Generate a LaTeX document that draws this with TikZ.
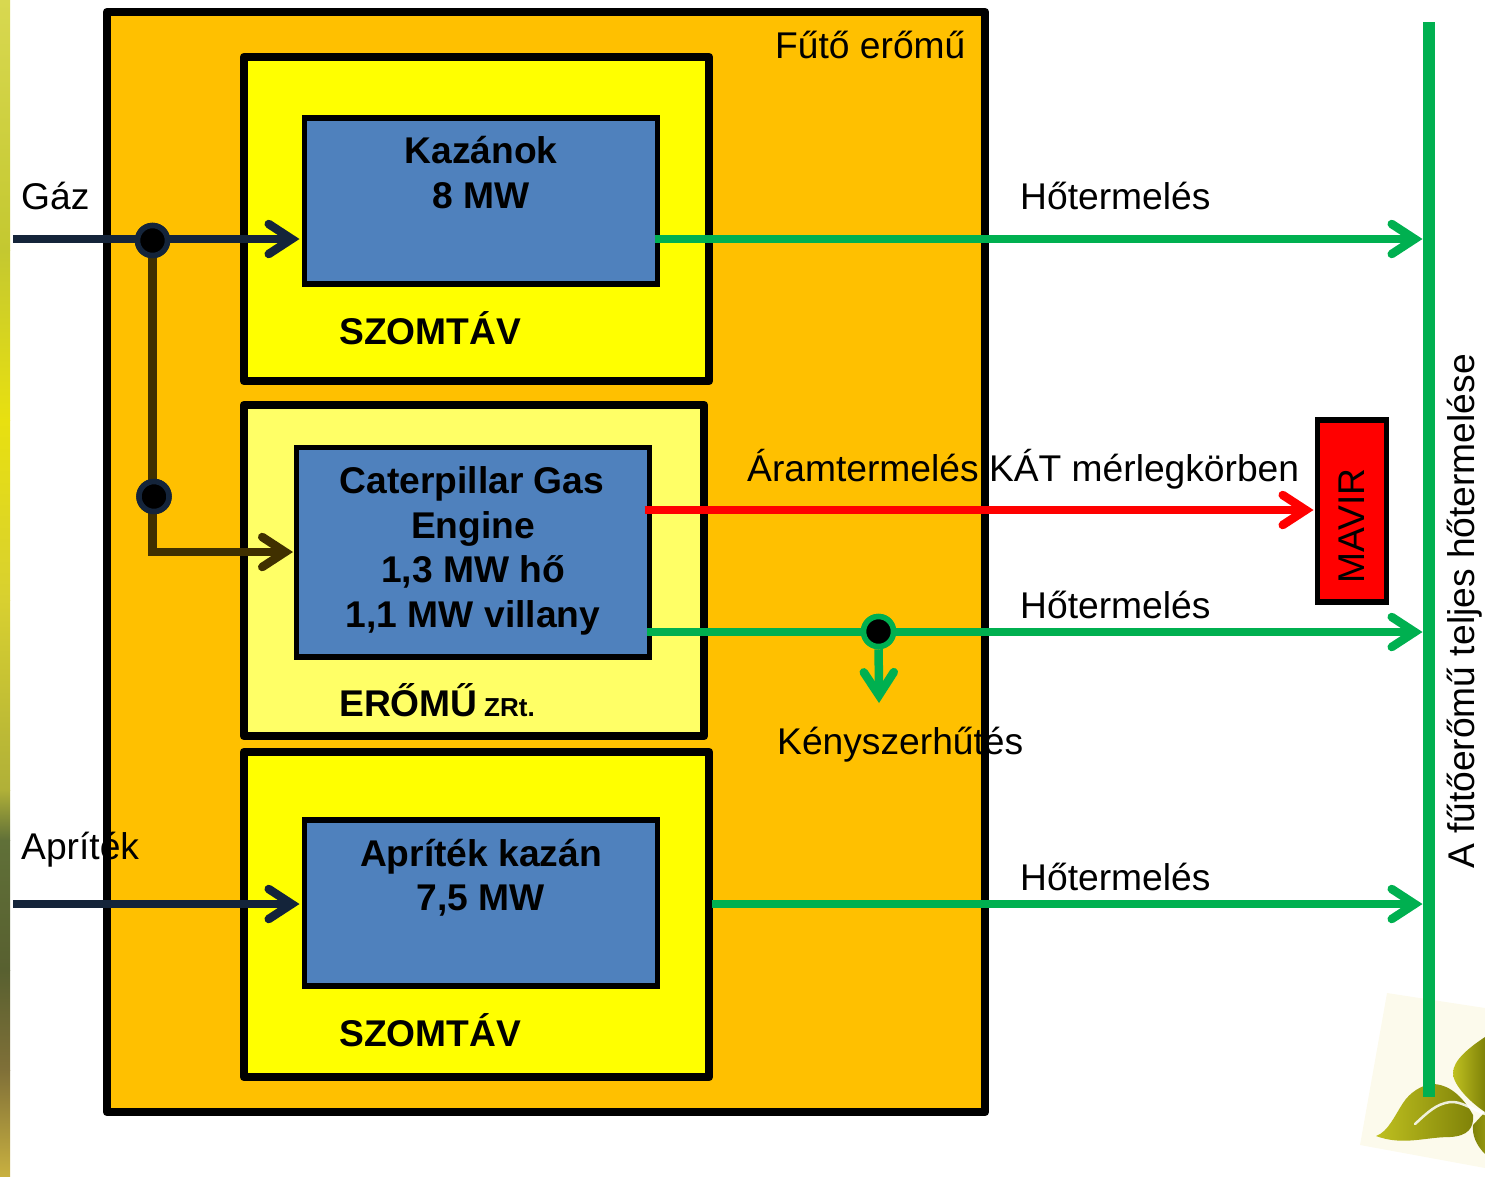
\documentclass[tikz,border=0pt]{standalone}
\usepackage{fontspec}
\setmainfont{Liberation Sans}
\usetikzlibrary{arrows.meta}
\definecolor{orangefill}{HTML}{FFC000}
\definecolor{yellowfill}{HTML}{FFFF00}
\definecolor{paleyellow}{HTML}{FFFF66}
\definecolor{bluefill}{HTML}{4F81BD}
\definecolor{navyline}{HTML}{14243A}
\definecolor{brownline}{HTML}{403000}
\definecolor{greenline}{HTML}{00B050}
\definecolor{leafbg}{HTML}{FCFAEC}
\definecolor{leafa}{HTML}{BFC020}
\definecolor{leafb}{HTML}{7F8208}
\definecolor{sa}{HTML}{D8D850}
\definecolor{sb}{HTML}{C4C830}
\definecolor{sc}{HTML}{E8E010}
\definecolor{sd}{HTML}{D8D030}
\definecolor{se}{HTML}{B0B038}
\definecolor{sf}{HTML}{607038}
\definecolor{sg}{HTML}{586030}
\definecolor{sh}{HTML}{807038}
\definecolor{si}{HTML}{C8B040}
\tikzset{
  x=1pt,y=-1pt,
  plantbox/.style={draw=black,line width=8.5pt,fill=orangefill,line join=round,inner sep=0pt,outer sep=0pt,anchor=north west},
  companybox/.style={draw=black,line width=8.5pt,line join=round,inner sep=0pt,outer sep=0pt,anchor=north west},
  unitbox/.style={draw=black,line width=5.5pt,fill=bluefill,inner sep=0pt,outer sep=0pt,anchor=north west},
  lab/.style={font=\fontsize{37.2}{44}\selectfont,text=black,inner sep=0pt},
  blab/.style={font=\fontsize{37.2}{44}\bfseries\selectfont,text=black,inner sep=0pt,align=center},
  tipped/.style={-{Straight Barb[length=23pt,width=30pt,line width=8.5pt,line cap=round,line join=miter]}},
  flow/.style={line width=8.5pt,tipped},
  dot/.style={circle,draw=#1,fill=black,line width=5.5pt,minimum size=30pt,inner sep=0pt},
}
\begin{document}
\begin{tikzpicture}
\useasboundingbox (0,0) rectangle (1485,1176);
% background strip
\shade[top color=sa,bottom color=sb] (0,0) rectangle (10,250.5);
\shade[top color=sb,bottom color=sc] (0,250) rectangle (10,420.5);
\shade[top color=sc,bottom color=sd] (0,420) rectangle (10,600.5);
\shade[top color=sd,bottom color=se] (0,600) rectangle (10,790.5);
\shade[top color=se,bottom color=sf] (0,790) rectangle (10,840.5);
\shade[top color=sf,bottom color=sg] (0,840) rectangle (10,970.5);
\shade[top color=sg,bottom color=sh] (0,970) rectangle (10,1070.5);
\shade[top color=sh,bottom color=si] (0,1070) rectangle (10,1176);
% logo
\fill[leafbg] (1387,993) -- (1485,1008) -- (1485,1168) -- (1360,1145) -- cycle;
\begin{scope}
\clip (0,0) rectangle (1485,1176);
\shade[left color=leafb,right color=leafb!70!leafa]
  (1485,1112) -- (1473,1125) .. controls (1472,1135) and (1476,1145) .. (1485,1154) -- cycle;
\shade[left color=leafa,right color=leafb]
  (1485,1037) .. controls (1470,1047) and (1453,1060) .. (1453,1073)
  .. controls (1453,1085) and (1470,1102) .. (1485,1112) -- cycle;
\shade[left color=leafa,right color=leafb]
  (1376,1136) .. controls (1388,1132) and (1395,1115) .. (1403,1103)
  .. controls (1410,1092) and (1422,1085) .. (1432,1084)
  .. controls (1448,1084) and (1462,1095) .. (1473,1115)
  .. controls (1474,1128) and (1468,1136) .. (1450,1137)
  .. controls (1425,1137) and (1403,1146) .. (1376,1136) -- cycle;
\draw[white,line width=2.5pt,line cap=round,opacity=.85] (1415,1124) .. controls (1428,1112) and (1436,1104) .. (1450,1102)
  .. controls (1460,1101) and (1470,1108) .. (1485,1114);
\end{scope}
% boxes
\node[plantbox,minimum width=878pt,minimum height=1100pt] (plant) at (107,12) {};
\node[companybox,fill=yellowfill,minimum width=465pt,minimum height=324pt] (szomtavA) at (244,57) {};
\node[companybox,fill=paleyellow,minimum width=460pt,minimum height=331pt] (eromu) at (244,405) {};
\node[companybox,fill=yellowfill,minimum width=465pt,minimum height=325pt] (szomtavB) at (244,752) {};
% units
\node[unitbox,minimum width=353pt,minimum height=166pt] (kazan) at (304.5,118) {};
\node[unitbox,minimum width=353pt,minimum height=209.5pt] (engine) at (296.5,447.5) {};
\node[unitbox,minimum width=353pt,minimum height=166pt] (apkazan) at (304.5,820) {};
% MAVIR and bus
\node[draw=black,line width=5.5pt,fill=red,minimum width=69pt,minimum height=182pt,inner sep=0pt,outer sep=0pt] (mavir) at (1352,511) {};
\node[fill=greenline,minimum width=12.5pt,minimum height=1075pt,inner sep=0pt,outer sep=0pt,anchor=north west] (bus) at (1422.5,22) {};
% free ends
\coordinate (gazin) at (13,239);
\coordinate (apin) at (13,904);
\coordinate (enginey) at (0,552);
\coordinate (redy) at (0,510);
\coordinate (h2y) at (0,632);
\coordinate (h3s) at (712,904);
\coordinate (coolend) at (879,703);
\node[dot=navyline] (d1) at (152.5,240.5) {};
\node[dot=navyline] (d2) at (154,496.5) {};
\node[dot=greenline] (d3) at (878.5,631.5) {};
% connectors
\draw[flow,draw=navyline] (gazin) -- ([xshift=-5pt]kazan.west |- gazin);
\draw[flow,draw=brownline,line join=miter] (d1.center |- d1.south) -- (d1.center |- enginey) -- ([xshift=-3.5pt]engine.west |- enginey);
\draw[flow,draw=navyline] (apin) -- ([xshift=-5pt]apkazan.west |- apin);
\draw[flow,draw=greenline] ([xshift=-3pt]kazan.east |- gazin) -- (bus.west |- gazin);
\draw[flow,draw=greenline] ([xshift=-3pt]engine.east |- h2y) -- (bus.west |- h2y);
\draw[flow,draw=greenline] (h3s) -- (bus.west |- h3s);
\draw[flow,draw=red] ([xshift=-5pt]engine.east |- redy) -- ([xshift=-4pt,yshift=1pt]mavir.west);
\draw[flow,draw=greenline] (d3) -- (coolend);
\node[dot=navyline] at (d1) {};
\node[dot=navyline] at (d2) {};
\node[dot=greenline] at (d3) {};
% texts
\node[lab,rotate=90,anchor=base] (mv) at (1364,526) {MAVIR};
\node[lab,anchor=base west] (t1) at (775,58) {Fűtő erőmű};
\node[lab,anchor=base west] (t2) at (21,209) {Gáz};
\node[lab,anchor=base west] (t3) at (21,859) {Apríték};
\node[lab,anchor=base west] (t4) at (1020,209) {Hőtermelés};
\node[lab,anchor=base west] (t5) at (1020,618) {Hőtermelés};
\node[lab,anchor=base west] (t6) at (1020,890) {Hőtermelés};
\node[lab,anchor=base west] (t7) at (747,481) {Áramtermelés KÁT mérlegkörben};
\node[lab,anchor=base west] (t8) at (777,754) {Kényszerhűtés};
\node[lab,rotate=90,anchor=base] (t9) at (1474,611.5) {A fűtőerőmű teljes hőtermelése};
\node[blab,anchor=base] (k1) at (481,163) {Kazánok};
\node[blab,anchor=base] (k2) at (481,208) {8 MW};
\node[blab,anchor=base] (e1) at (472,493) {Caterpillar Gas};
\node[blab,anchor=base] (e2) at (473,538) {Engine};
\node[blab,anchor=base] (e3) at (473,582) {1,3 MW hő};
\node[blab,anchor=base] (e4) at (473,627) {1,1 MW villany};
\node[blab,anchor=base] (a1) at (481,866) {Apríték kazán};
\node[blab,anchor=base] (a2) at (481,910) {7,5 MW};
\node[blab,anchor=base west] (s1) at (339,344) {SZOMTÁV};
\node[blab,anchor=base west] (s2) at (339,716) {ERŐMŰ};
\node[anchor=base west,inner sep=0pt,font=\fontsize{26}{30}\bfseries\selectfont] (s2b) at (484,716) {ZRt.};
\node[blab,anchor=base west] (s3) at (339,1046) {SZOMTÁV};
\end{tikzpicture}
\end{document}
